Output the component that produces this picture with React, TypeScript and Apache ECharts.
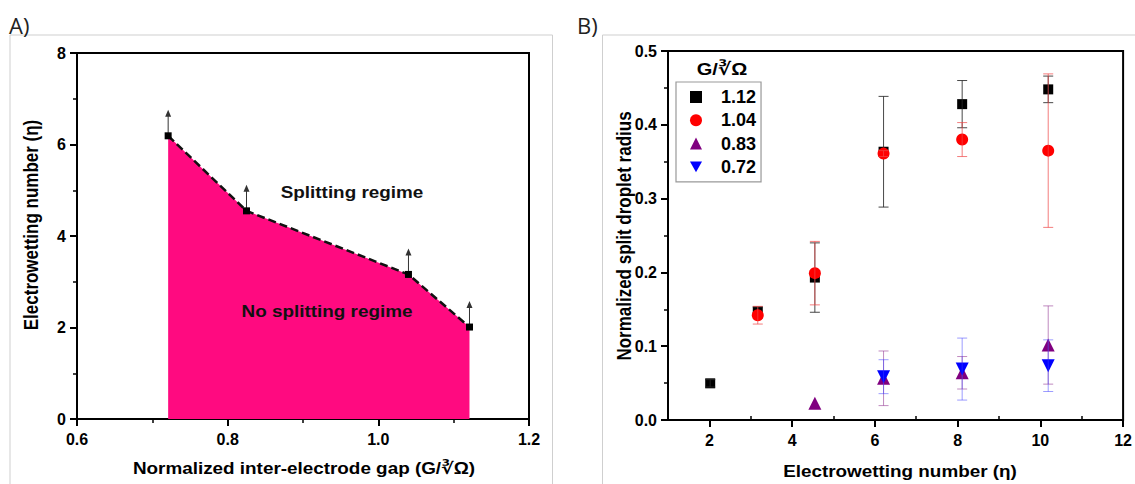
import React, { useEffect, useRef } from "react";
import * as echarts from "echarts";

// Panel A: splitting threshold
const gapA = [0.721, 0.825, 1.04, 1.121];
const etaA = [6.19, 4.55, 3.16, 2.01];

// Panel B: normalized split droplet radius vs electrowetting number
const seriesNames = ["1.12", "1.04", "0.83", "0.72"];
const eta112 = [2.02, 3.17, 4.55, 6.21, 8.11, 10.19];
const r112 = [0.0497, 0.147, 0.193, 0.3635, 0.428, 0.448];
const e112 = [0.005, 0.006, 0.047, 0.075, 0.032, 0.018];
const eta104 = [3.17, 4.55, 6.21, 8.11, 10.19];
const r104 = [0.142, 0.199, 0.361, 0.38, 0.365];
const e104 = [0.012, 0.043, 0.004, 0.023, 0.104];
const eta083 = [4.55, 6.21, 8.11, 10.19];
const r083 = [0.0226, 0.0565, 0.064, 0.1016];
const e083 = [0, 0.037, 0.022, 0.053];
const eta072 = [6.21, 8.11, 10.19];
const r072 = [0.0587, 0.069, 0.0736];
const e072 = [0.023, 0.042, 0.035];

const xMajorB = [2, 4, 6, 8, 10, 12];
const xMinorB = [1, 3, 5, 7, 9, 11];

const FONT = "'Liberation Sans', Arial, 'DejaVu Sans', sans-serif";
const DOWN_TRI = "path://M0,0 L10,0 L5,9 Z";
const ARROW = "path://M2.5,6 L3.5,6 L3.5,26 L2.5,26 Z M0,7 L3,0 L6,7 Z";
const SX = 1.18;

const labelStyle = { fontFamily: FONT, fontWeight: "bold" as const, fontSize: 16, color: "#000" };

function errSeries(name: string, xs: number[], ys: number[], es: number[], color: string, z: number) {
  return {
    type: "custom",
    name,
    xAxisIndex: 1,
    yAxisIndex: 1,
    z,
    silent: true,
    data: xs.map((x, i) => [x, ys[i], es[i]]),
    encode: { x: 0, y: 1 },
    renderItem: (params: any, api: any) => {
      const x = api.value(0);
      const y = api.value(1);
      const e = api.value(2);
      if (!e) return { type: "group", children: [] };
      const top = api.coord([x, y + e]);
      const bot = api.coord([x, y - e]);
      const w = 5;
      const st = { stroke: color, lineWidth: 1 };
      return {
        type: "group",
        children: [
          { type: "line", shape: { x1: top[0], y1: top[1], x2: bot[0], y2: bot[1] }, style: st },
          { type: "line", shape: { x1: top[0] - w, y1: top[1], x2: top[0] + w, y2: top[1] }, style: st },
          { type: "line", shape: { x1: bot[0] - w, y1: bot[1], x2: bot[0] + w, y2: bot[1] }, style: st },
        ],
      };
    },
  };
}

function scatter(name: string, xs: number[], ys: number[], symbol: string, size: number, color: string, z: number) {
  return {
    type: "scatter",
    name,
    xAxisIndex: 1,
    yAxisIndex: 1,
    z,
    symbol,
    symbolSize: size,
    itemStyle: { color, opacity: 1 },
    data: xs.map((x, i) => [x, ys[i]]),
  };
}

function hText(text: string, x: number, y: number, size: number, fill = "#000") {
  return {
    type: "text",
    x,
    y,
    scaleX: SX,
    z: 10,
    style: { text, font: `bold ${size}px ${FONT}`, fill, align: "center", verticalAlign: "middle" },
  };
}

function vText(text: string, x: number, y: number, size: number) {
  return {
    type: "text",
    x,
    y,
    rotation: Math.PI / 2,
    scaleY: SX,
    z: 10,
    style: { text, font: `bold ${size}px ${FONT}`, fill: "#000", align: "center", verticalAlign: "middle" },
  };
}

export default function App() {
  const ref = useRef<HTMLDivElement>(null);
  useEffect(() => {
    if (!ref.current) return;
    const chart = echarts.init(ref.current, undefined, { renderer: "svg" });
    const axisLine = { show: true, onZero: false, lineStyle: { color: "#000", width: 2 } };
    const option: any = {
      animation: false,
      backgroundColor: "#fff",
      grid: [
        { left: 77, top: 53, width: 452, height: 366, show: true, borderColor: "#000", borderWidth: 2, backgroundColor: "transparent" },
        { left: 668, top: 51, width: 460, height: 369, show: true, borderColor: "#000", borderWidth: 2, backgroundColor: "transparent" },
      ],
      xAxis: [
        {
          gridIndex: 0,
          type: "value",
          min: 0.6,
          max: 1.2,
          interval: 0.2,
          axisLine,
          axisTick: { show: true, length: 7, lineStyle: { color: "#000", width: 2 } },
          minorTick: { show: true, splitNumber: 2, length: 4, lineStyle: { color: "#000", width: 1.5 } },
          axisLabel: { ...labelStyle, margin: 12, formatter: (v: number) => v.toFixed(1) },
          splitLine: { show: false },
        },
        {
          gridIndex: 1,
          type: "value",
          min: 1,
          max: 12,
          interval: 1,
          axisLine,
          axisTick: { show: true, length: 7, customValues: xMajorB, lineStyle: { color: "#000", width: 2 } },
          axisLabel: { ...labelStyle, margin: 12, customValues: xMajorB, formatter: (v: number) => String(v) },
          splitLine: { show: false },
        },
        {
          gridIndex: 1,
          type: "value",
          min: 1,
          max: 12,
          interval: 1,
          axisLine: { show: false },
          axisTick: { show: true, length: 4, customValues: xMinorB, lineStyle: { color: "#000", width: 1.5 } },
          axisLabel: { show: false },
          splitLine: { show: false },
        },
      ],
      yAxis: [
        {
          gridIndex: 0,
          type: "value",
          min: 0,
          max: 8,
          interval: 2,
          axisLine,
          axisTick: { show: true, length: 7, lineStyle: { color: "#000", width: 2 } },
          minorTick: { show: true, splitNumber: 2, length: 4, lineStyle: { color: "#000", width: 1.5 } },
          axisLabel: { ...labelStyle, margin: 11 },
          splitLine: { show: false },
        },
        {
          gridIndex: 1,
          type: "value",
          min: 0,
          max: 0.5,
          interval: 0.1,
          axisLine,
          axisTick: { show: true, length: 7, lineStyle: { color: "#000", width: 2 } },
          minorTick: { show: true, splitNumber: 2, length: 4, lineStyle: { color: "#000", width: 1.5 } },
          axisLabel: { ...labelStyle, margin: 11, formatter: (v: number) => v.toFixed(1) },
          splitLine: { show: false },
        },
      ],
      legend: {
        data: [
          { name: seriesNames[0], icon: "rect" },
          { name: seriesNames[1], icon: "circle" },
          { name: seriesNames[2], icon: "triangle" },
          { name: seriesNames[3], icon: DOWN_TRI },
        ],
        orient: "vertical",
        left: 676,
        top: 82,
        padding: [6, 5, 6, 14],
        itemWidth: 12,
        itemHeight: 12,
        itemGap: 5.3,
        borderColor: "#999",
        borderWidth: 1.2,
        selectedMode: false,
        textStyle: { fontFamily: FONT, fontWeight: "bold", fontSize: 18, lineHeight: 18, color: "#000", padding: [0, 0, 0, 14] },
      },
      series: [
        {
          type: "line",
          name: "threshold",
          xAxisIndex: 0,
          yAxisIndex: 0,
          z: 3,
          data: gapA.map((x, i) => [x, etaA[i]]),
          symbol: "rect",
          symbolSize: 7,
          showSymbol: true,
          itemStyle: { color: "#000" },
          lineStyle: { color: "#111", width: 2.5, type: [8, 4] },
          areaStyle: { color: "#FF0A80", opacity: 1, origin: "start" },
        },
        {
          type: "scatter",
          name: "arrows",
          xAxisIndex: 0,
          yAxisIndex: 0,
          z: 2,
          data: gapA.map((x, i) => [x, etaA[i]]),
          symbol: ARROW,
          symbolSize: [6, 26],
          symbolOffset: [0, -13],
          itemStyle: { color: "#000" },
        },
        scatter(seriesNames[0], eta112, r112, "rect", 10, "#000000", 2),
        errSeries("err112", eta112, r112, e112, "rgba(40,40,40,0.85)", 3),
        scatter(seriesNames[1], eta104, r104, "circle", 12, "#FF0000", 4),
        errSeries("err104", eta104, r104, e104, "rgba(240,70,70,0.7)", 5),
        scatter(seriesNames[2], eta083, r083, "triangle", 13, "#800080", 6),
        errSeries("err083", eta083, r083, e083, "rgba(150,60,150,0.6)", 7),
        scatter(seriesNames[3], eta072, r072, DOWN_TRI, 13, "#0000FF", 8),
        errSeries("err072", eta072, r072, e072, "rgba(60,60,255,0.5)", 9),
      ],
      graphic: [
        { type: "polyline", silent: true, shape: { points: [[10, 484], [10, 35], [552.5, 35], [552.5, 484]] }, style: { stroke: "#cfcfcf", lineWidth: 1, fill: null } },
        { type: "polyline", silent: true, shape: { points: [[602.5, 484], [602.5, 35], [1135, 35]] }, style: { stroke: "#cfcfcf", lineWidth: 1, fill: null } },
        { type: "text", x: 9, y: 25, style: { text: "A)", font: "22px 'Open Sans', 'Liberation Sans', sans-serif", fill: "#222", verticalAlign: "middle" } },
        { type: "text", x: 577, y: 25, style: { text: "B)", font: "22px 'Open Sans', 'Liberation Sans', sans-serif", fill: "#222", verticalAlign: "middle" } },
        hText("Splitting regime", 352, 193, 16, "#111"),
        hText("No splitting regime", 327, 312, 16, "#111"),
        vText("Electrowetting number (η)", 31, 225, 17),
        hText("Normalized inter-electrode gap (G/∛Ω)", 304, 469, 16),
        vText("Normalized split droplet radius", 624, 236, 17),
        hText("Electrowetting number (η)", 900, 472, 16),
        hText("G/∛Ω", 722, 69, 17),
      ],
    };
    chart.setOption(option);
    return () => chart.dispose();
  }, []);
  return <div ref={ref} style={{ position: "fixed", left: 0, top: 0, width: 1135, height: 484 }} />;
}
